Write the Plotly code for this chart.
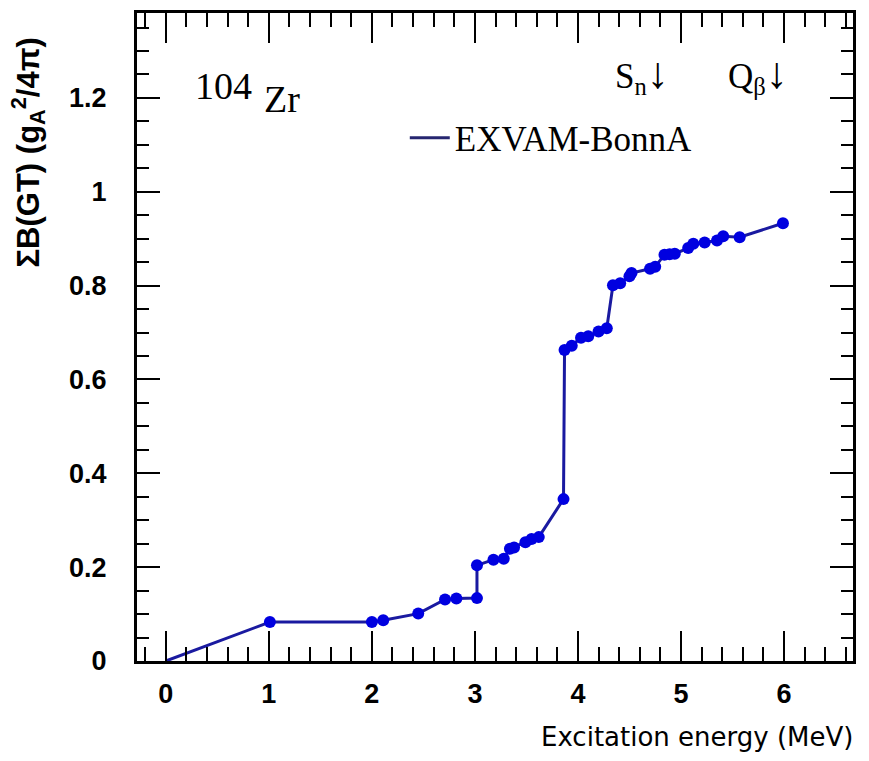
import plotly.graph_objects as go

# Cumulative Gamow-Teller strength for 104Zr (EXVAM with Bonn A interaction)
energy_mev = [0.00, 1.01, 2.00, 2.11, 2.45, 2.71, 2.82, 3.02, 3.02, 3.18, 3.28,
              3.34, 3.38, 3.49, 3.55, 3.62, 3.86, 3.87, 3.94, 4.03, 4.10, 4.20,
              4.28, 4.34, 4.41, 4.50, 4.52, 4.70, 4.75, 4.84, 4.89, 4.94, 5.07,
              5.12, 5.23, 5.35, 5.41, 5.57, 5.99]
sum_bgt = [0.000, 0.083, 0.083, 0.087, 0.101, 0.131, 0.133, 0.134, 0.204, 0.216,
           0.218, 0.239, 0.242, 0.253, 0.260, 0.264, 0.345, 0.663, 0.672, 0.689,
           0.692, 0.702, 0.709, 0.801, 0.805, 0.820, 0.827, 0.836, 0.840, 0.866,
           0.867, 0.868, 0.880, 0.889, 0.892, 0.896, 0.905, 0.903, 0.933]
series_name = "EXVAM-BonnA"

x_ticks = [0, 1, 2, 3, 4, 5, 6]
y_ticks = [0, 0.2, 0.4, 0.6, 0.8, 1.0, 1.2]
y_tick_text = ["0", "0.2", "0.4", "0.6", "0.8", "1", "1.2"]

LINE_BLUE = "#1a1aa0"
DOT_BLUE = "#0000e0"
SERIF = "Liberation Serif, Times New Roman, serif"
SANS_BOLD = "Liberation Sans, Arial, sans-serif"

# the origin point is the start of the curve only, no dot drawn there
dot_sizes = [0] + [12] * (len(energy_mev) - 1)

fig = go.Figure()
fig.add_trace(go.Scatter(
    x=energy_mev, y=sum_bgt, mode="lines+markers",
    line=dict(color=LINE_BLUE, width=3),
    marker=dict(color=DOT_BLUE, size=dot_sizes, opacity=1,
                line=dict(color=DOT_BLUE, width=0)),
    showlegend=False, cliponaxis=False,
))
# legend entry shows the line only
fig.add_trace(go.Scatter(
    x=[None], y=[None], mode="lines", name=series_name,
    line=dict(color="#262670", width=3), showlegend=True,
))

axis_common = dict(
    showline=True, linewidth=3, linecolor="black", mirror="allticks",
    ticks="inside", tickwidth=2, tickcolor="black",
    showgrid=False, zeroline=False,
    tickfont=dict(family=SANS_BOLD, size=27, color="black", weight="bold"),
)

fig.update_xaxes(
    range=[-0.28, 6.67], tickvals=x_ticks, ticklen=30,
    ticklabelstandoff=7,
    minor=dict(dtick=0.2, ticklen=14, tickwidth=2, ticks="inside", tickcolor="black"),
    **axis_common,
)
fig.update_yaxes(
    range=[0, 1.381], tickvals=y_ticks, ticktext=y_tick_text, ticklen=23,
    ticklabelstandoff=22,
    minor=dict(dtick=0.05, ticklen=12, tickwidth=2, ticks="inside", tickcolor="black"),
    **axis_common,
)

annotations = [
    dict(text="Excitation energy (MeV)", xref="paper", yref="paper",
         x=1.003, y=-0.117, xanchor="right", yanchor="middle", showarrow=False,
         font=dict(family="DejaVu Sans, sans-serif", size=26, color="black")),
    dict(text="ΣB(GT) (g<sub>A</sub><sup>2</sup>/4π)", xref="paper", yref="paper",
         x=-0.152, y=0.785, xanchor="center", yanchor="middle", textangle=-90,
         showarrow=False,
         font=dict(family=SANS_BOLD, size=31, color="black", weight="bold")),
    dict(text="104", xref="paper", yref="paper", x=0.078, y=0.887,
         xanchor="left", yanchor="middle", showarrow=False,
         font=dict(family=SERIF, size=38, color="black")),
    dict(text="Zr", xref="paper", yref="paper", x=0.175, y=0.868,
         xanchor="left", yanchor="middle", showarrow=False,
         font=dict(family=SERIF, size=38, color="black")),
    dict(text="S<sub>n</sub><span style='font-size:44px'>↓</span>",
         xref="paper", yref="paper", x=0.665, y=0.905,
         xanchor="left", yanchor="middle", showarrow=False,
         font=dict(family=SERIF, size=35, color="black")),
    dict(text="Q<sub>β</sub><span style='font-size:44px'>↓</span>",
         xref="paper", yref="paper", x=0.822, y=0.905,
         xanchor="left", yanchor="middle", showarrow=False,
         font=dict(family=SERIF, size=35, color="black")),
]

fig.update_layout(
    width=869, height=761,
    margin=dict(l=137, r=16, t=10, b=100),
    paper_bgcolor="white", plot_bgcolor="white",
    annotations=annotations,
    legend=dict(x=0.374, y=0.807, xanchor="left", yanchor="middle",
                itemwidth=40,
                bgcolor="rgba(0,0,0,0)", borderwidth=0,
                font=dict(family=SERIF, size=35, color="black")),
)

fig.write_html("out.html")
